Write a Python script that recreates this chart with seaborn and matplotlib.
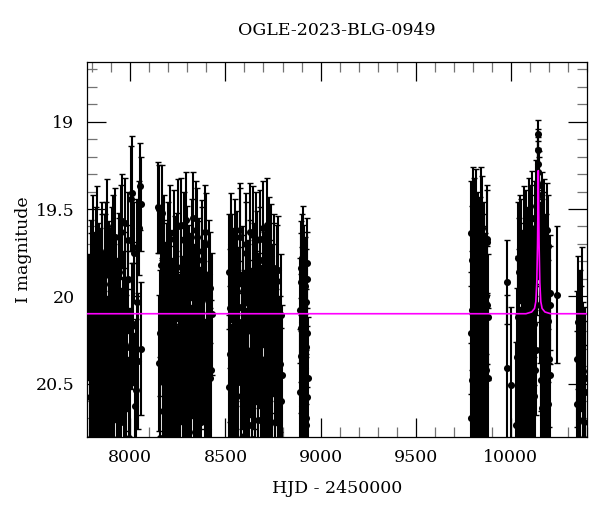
import matplotlib
matplotlib.use("Agg")
import matplotlib.pyplot as plt
import pandas as pd
import numpy as np
import seaborn as sns
from matplotlib.ticker import MultipleLocator, FuncFormatter

# --- photometry, season by season (HJD - 2450000, I mag, error) ---
t1 = [7783, 7789, 7794, 7798, 7803, 7808, 7812, 7817, 7821, 7826,
      7830, 7835, 7840, 7844, 7849, 7853, 7858, 7862, 7867, 7872,
      7876, 7881, 7886, 7890, 7895, 7899, 7904, 7909, 7914, 7918,
      7923, 7928, 7933, 7938, 7943, 7948, 7953, 7958, 7964, 7970,
      7976, 7983, 7990, 7998, 8006, 8015, 8024, 8033, 8042, 8052, 8058]
m1 = [20.12, 20.45, 19.86, 20.31, 20.68, 19.95, 20.22, 20.84, 19.78, 20.05,
      20.53, 20.17, 19.92, 20.74, 20.38, 19.83, 20.09, 20.61, 20.27, 19.74,
      20.48, 20.93, 20.02, 19.88, 20.35, 20.71, 20.14, 19.69, 20.56, 20.24,
      19.97, 20.82, 20.41, 19.81, 20.19, 20.66, 19.63, 20.33, 20.07, 19.58,
      20.88, 20.29, 19.90, 20.47, 19.41, 20.16, 20.63, 19.72, 20.37, 19.37, 19.47]
e1 = [0.36, 0.42, 0.30, 0.38, 0.45, 0.32, 0.37, 0.46, 0.29, 0.33,
      0.41, 0.36, 0.31, 0.44, 0.39, 0.30, 0.34, 0.43, 0.38, 0.28,
      0.40, 0.47, 0.33, 0.31, 0.38, 0.44, 0.35, 0.27, 0.42, 0.37,
      0.32, 0.45, 0.40, 0.29, 0.35, 0.43, 0.27, 0.38, 0.33, 0.26,
      0.46, 0.37, 0.31, 0.40, 0.33, 0.35, 0.42, 0.28, 0.39, 0.25, 0.27]
t1b = [7786, 7791, 7796, 7801, 7805, 7810, 7815, 7819, 7824, 7828,
       7833, 7837, 7842, 7847, 7851, 7856, 7860, 7865, 7869, 7874,
       7879, 7883, 7888, 7893, 7897, 7902, 7906, 7911, 7916, 7921,
       7926, 7930, 7935, 7940, 7945, 7950, 7955, 7961, 7967, 7973,
       7979, 7986, 7994, 8002, 8010, 8019, 8028, 8037, 8047, 8055]
m1b = [20.58, 19.97, 20.76, 20.14, 19.71, 20.43, 20.89, 20.06, 19.65, 20.36,
       20.71, 19.89, 20.24, 20.55, 19.76, 20.97, 20.31, 19.84, 20.63, 20.11,
       19.60, 20.40, 20.79, 19.93, 20.20, 20.52, 19.79, 20.68, 20.04, 19.66,
       20.34, 20.90, 20.13, 19.86, 20.49, 20.72, 19.57, 20.26, 20.60, 19.95,
       20.38, 19.68, 20.81, 19.44, 20.17, 19.75, 20.54, 20.03, 19.61, 20.30]
e1b = [0.42, 0.33, 0.45, 0.36, 0.29, 0.40, 0.47, 0.34, 0.28, 0.39,
       0.44, 0.31, 0.37, 0.41, 0.30, 0.48, 0.38, 0.31, 0.43, 0.35,
       0.27, 0.40, 0.46, 0.32, 0.36, 0.41, 0.30, 0.44, 0.34, 0.28,
       0.38, 0.47, 0.35, 0.31, 0.40, 0.45, 0.27, 0.37, 0.43, 0.32,
       0.39, 0.28, 0.46, 0.30, 0.36, 0.29, 0.41, 0.34, 0.27, 0.38]

t2 = [8146, 8152, 8158, 8164, 8170, 8176, 8181, 8187, 8192, 8198,
      8203, 8209, 8214, 8220, 8225, 8231, 8236, 8242, 8247, 8253,
      8258, 8264, 8269, 8275, 8280, 8286, 8291, 8297, 8302, 8308,
      8313, 8319, 8324, 8330, 8335, 8341, 8346, 8352, 8357, 8363,
      8368, 8374, 8379, 8385, 8391, 8397, 8403, 8410, 8417, 8425]
m2 = [19.49, 19.50, 20.21, 19.52, 20.66, 19.88, 20.39, 20.03, 20.79, 19.76,
      20.28, 20.52, 19.94, 20.13, 20.87, 19.67, 20.44, 20.08, 19.83, 20.60,
      20.25, 19.59, 20.35, 20.91, 19.99, 20.18, 19.56, 20.72, 20.46, 19.91,
      20.11, 20.57, 19.73, 20.32, 20.83, 20.04, 19.62, 20.49, 20.20, 19.86,
      20.69, 20.37, 19.79, 20.15, 20.55, 19.70, 20.27, 20.76, 19.95, 20.42]
e2 = [0.26, 0.25, 0.36, 0.27, 0.43, 0.32, 0.39, 0.34, 0.46, 0.30,
      0.37, 0.41, 0.32, 0.35, 0.47, 0.28, 0.40, 0.34, 0.31, 0.43,
      0.37, 0.27, 0.38, 0.48, 0.33, 0.36, 0.27, 0.44, 0.40, 0.32,
      0.35, 0.42, 0.29, 0.38, 0.46, 0.34, 0.28, 0.41, 0.36, 0.31,
      0.44, 0.39, 0.30, 0.35, 0.42, 0.29, 0.37, 0.45, 0.32, 0.40]
t2b = [8149, 8155, 8161, 8167, 8173, 8178, 8184, 8189, 8195, 8200,
       8206, 8211, 8217, 8222, 8228, 8233, 8239, 8244, 8250, 8255,
       8261, 8266, 8272, 8277, 8283, 8288, 8294, 8299, 8305, 8310,
       8316, 8321, 8327, 8332, 8338, 8343, 8349, 8354, 8360, 8365,
       8371, 8376, 8382, 8388, 8394, 8400, 8406, 8413, 8420, 8427]
m2b = [20.38, 20.81, 19.82, 20.13, 20.49, 19.71, 20.94, 20.26, 19.90, 20.63,
       20.05, 19.64, 20.41, 20.75, 20.17, 19.85, 20.58, 20.97, 19.60, 20.30,
       20.69, 19.93, 20.12, 20.52, 19.68, 20.84, 20.36, 19.78, 20.23, 20.65,
       19.97, 20.45, 19.55, 20.09, 20.78, 20.29, 19.66, 20.55, 19.89, 20.19,
       20.72, 19.74, 20.34, 20.01, 19.63, 20.61, 20.24, 19.87, 20.47, 20.10]
e2b = [0.39, 0.46, 0.31, 0.35, 0.41, 0.29, 0.48, 0.37, 0.32, 0.43,
       0.34, 0.28, 0.40, 0.45, 0.36, 0.31, 0.42, 0.48, 0.27, 0.38,
       0.44, 0.32, 0.35, 0.41, 0.28, 0.46, 0.39, 0.30, 0.37, 0.43,
       0.33, 0.40, 0.26, 0.34, 0.45, 0.38, 0.28, 0.42, 0.32, 0.36,
       0.44, 0.29, 0.38, 0.33, 0.27, 0.43, 0.37, 0.31, 0.40, 0.35]

t3 = [8517, 8522, 8528, 8533, 8539, 8544, 8550, 8555, 8561, 8566,
      8572, 8577, 8583, 8588, 8594, 8599, 8605, 8610, 8616, 8621,
      8627, 8632, 8638, 8643, 8649, 8654, 8660, 8665, 8671, 8676,
      8682, 8687, 8693, 8698, 8704, 8709, 8715, 8720, 8726, 8731,
      8737, 8742, 8748, 8753, 8759, 8765, 8771, 8778, 8786, 8794]
m3 = [19.86, 20.33, 19.70, 20.58, 20.11, 19.93, 20.77, 20.26, 19.81, 20.49,
      20.06, 19.66, 20.88, 20.37, 19.97, 20.21, 20.64, 19.75, 20.43, 20.02,
      19.63, 20.31, 20.82, 20.14, 19.89, 20.55, 19.68, 20.25, 20.71, 20.09,
      19.79, 20.46, 20.18, 19.61, 20.92, 20.36, 19.94, 20.12, 20.62, 19.72,
      20.29, 20.85, 20.04, 19.84, 20.51, 20.23, 19.91, 20.67, 20.39, 20.60]
e3 = [0.33, 0.39, 0.29, 0.42, 0.35, 0.32, 0.45, 0.37, 0.30, 0.41,
      0.34, 0.28, 0.46, 0.39, 0.32, 0.36, 0.43, 0.29, 0.40, 0.34,
      0.28, 0.38, 0.45, 0.35, 0.31, 0.42, 0.28, 0.37, 0.44, 0.34,
      0.30, 0.41, 0.36, 0.27, 0.47, 0.39, 0.32, 0.35, 0.43, 0.29,
      0.38, 0.46, 0.34, 0.31, 0.41, 0.37, 0.32, 0.44, 0.39, 0.42]
t3b = [8519, 8525, 8530, 8536, 8541, 8547, 8552, 8558, 8563, 8569,
       8574, 8580, 8585, 8591, 8596, 8602, 8607, 8613, 8618, 8624,
       8629, 8635, 8640, 8646, 8651, 8657, 8662, 8668, 8673, 8679,
       8684, 8690, 8695, 8701, 8706, 8712, 8717, 8723, 8728, 8734,
       8739, 8745, 8750, 8756, 8762, 8768, 8774, 8782, 8790, 8796]
m3b = [20.52, 20.07, 20.86, 19.84, 20.29, 20.69, 19.73, 20.40, 20.95, 20.15,
       19.62, 20.57, 20.23, 19.92, 20.80, 20.33, 19.70, 20.48, 20.04, 20.74,
       19.87, 20.20, 20.61, 19.65, 20.37, 20.91, 20.08, 19.81, 20.53, 20.27,
       19.67, 20.44, 20.83, 19.96, 20.16, 20.66, 19.59, 20.31, 20.76, 20.01,
       19.77, 20.50, 20.21, 19.90, 20.72, 20.35, 19.85, 20.58, 20.11, 20.45]
e3b = [0.41, 0.34, 0.46, 0.31, 0.38, 0.44, 0.29, 0.40, 0.48, 0.35,
       0.27, 0.42, 0.37, 0.32, 0.45, 0.38, 0.29, 0.41, 0.34, 0.44,
       0.31, 0.36, 0.43, 0.28, 0.39, 0.47, 0.34, 0.30, 0.42, 0.37,
       0.28, 0.40, 0.46, 0.33, 0.35, 0.43, 0.27, 0.38, 0.45, 0.33,
       0.30, 0.41, 0.36, 0.32, 0.44, 0.39, 0.31, 0.42, 0.35, 0.40]

t4 = [8892, 8895, 8898, 8901, 8904, 8907, 8909, 8911,
      8913, 8915, 8918, 8921, 8924, 8927, 8930, 8933]
m4 = [20.08, 19.92, 20.34, 19.78, 20.15, 20.52, 19.97, 20.26,
      20.68, 19.85, 20.41, 20.03, 20.74, 19.90, 20.21, 20.47]
e4 = [0.30, 0.28, 0.33, 0.25, 0.31, 0.36, 0.27, 0.32,
      0.38, 0.26, 0.34, 0.30, 0.39, 0.27, 0.31, 0.35]
t4b = [8893, 8896, 8899, 8902, 8905, 8908, 8910, 8912,
       8914, 8916, 8919, 8922, 8925, 8928, 8931]
m4b = [20.55, 20.18, 19.84, 20.63, 20.01, 20.38, 19.73, 20.80,
       20.12, 20.45, 19.94, 20.70, 20.29, 19.81, 20.58]
e4b = [0.36, 0.31, 0.27, 0.37, 0.29, 0.34, 0.25, 0.40,
       0.30, 0.35, 0.28, 0.39, 0.33, 0.26, 0.37]

t5 = [9790, 9793, 9797, 9800, 9803, 9807, 9810, 9813, 9817, 9820,
      9823, 9827, 9830, 9833, 9837, 9840, 9843, 9847, 9850, 9853,
      9857, 9860, 9864, 9867, 9871, 9874, 9877, 9880]
m5 = [20.21, 19.64, 20.48, 20.02, 19.56, 20.73, 20.14, 19.88, 20.39, 19.58,
      20.86, 20.27, 19.95, 20.57, 19.73, 20.09, 20.65, 19.61, 20.33, 20.81,
      19.84, 20.18, 20.52, 19.97, 20.42, 20.05, 19.67, 20.12]
e5 = [0.35, 0.30, 0.40, 0.33, 0.30, 0.44, 0.36, 0.32, 0.39, 0.31,
      0.46, 0.37, 0.33, 0.41, 0.30, 0.34, 0.43, 0.30, 0.38, 0.45,
      0.31, 0.35, 0.41, 0.33, 0.39, 0.34, 0.31, 0.36]
t5b = [9791, 9795, 9798, 9802, 9805, 9808, 9812, 9815, 9818, 9822,
       9825, 9828, 9832, 9835, 9838, 9842, 9845, 9848, 9852, 9855,
       9858, 9862, 9865, 9869, 9872, 9876, 9879]
m5b = [20.70, 20.08, 19.79, 20.45, 20.92, 19.62, 20.31, 20.59, 19.86, 20.20,
       20.77, 19.70, 20.40, 20.04, 20.88, 19.55, 20.26, 20.51, 19.92, 20.68,
       20.13, 19.76, 20.36, 20.84, 20.00, 19.69, 20.47]
e5b = [0.43, 0.34, 0.31, 0.40, 0.47, 0.30, 0.37, 0.42, 0.32, 0.35,
       0.44, 0.30, 0.39, 0.33, 0.46, 0.29, 0.37, 0.40, 0.32, 0.43,
       0.35, 0.30, 0.38, 0.45, 0.33, 0.30, 0.40]

t6 = [9979, 9983, 9999, 10026,
      10034, 10038, 10042, 10046, 10050, 10054, 10058, 10062, 10066, 10070,
      10074, 10078, 10082, 10086, 10090, 10094, 10098, 10102, 10106, 10110,
      10114, 10118, 10122, 10126, 10130, 10134,
      10137, 10140, 10142, 10144, 10145, 10146, 10148, 10150, 10153, 10156,
      10160, 10164, 10168, 10172, 10176, 10180, 10184, 10188, 10192, 10196,
      10200, 10204, 10207, 10242]
m6 = [19.92, 20.41, 20.51, 20.74,
      20.35, 19.78, 20.62, 20.08, 19.72, 20.47, 20.88, 19.95, 20.27, 19.66,
      20.56, 20.13, 19.82, 20.79, 20.38, 19.60, 20.19, 20.66, 19.88, 20.30,
      19.55, 20.51, 20.02, 19.71, 20.42, 19.48,
      19.83, 19.58, 19.36, 19.16, 19.07, 19.24, 19.42, 19.63, 20.05, 19.76,
      20.48, 19.57, 20.22, 20.71, 19.69, 20.36, 19.93, 20.58, 19.62, 20.14,
      20.84, 19.98, 20.45, 19.99]
e6 = [0.24, 0.42, 0.45, 0.48,
      0.40, 0.32, 0.44, 0.35, 0.30, 0.41, 0.47, 0.33, 0.37, 0.29,
      0.42, 0.34, 0.31, 0.45, 0.38, 0.28, 0.35, 0.43, 0.31, 0.37,
      0.27, 0.41, 0.33, 0.29, 0.39, 0.26,
      0.28, 0.24, 0.20, 0.12, 0.08, 0.15, 0.22, 0.27, 0.33, 0.30,
      0.40, 0.28, 0.36, 0.44, 0.29, 0.38, 0.32, 0.41, 0.27, 0.35,
      0.46, 0.33, 0.40, 0.39]
t6b = [10036, 10040, 10044, 10048, 10052, 10056, 10060, 10064, 10068, 10072,
       10076, 10080, 10084, 10088, 10092, 10096, 10100, 10104, 10108, 10112,
       10116, 10120, 10124, 10128, 10132,
       10139, 10143, 10147, 10152, 10158,
       10162, 10166, 10170, 10174, 10178, 10182, 10186, 10190, 10194, 10198,
       10202, 10206]
m6b = [20.71, 20.12, 19.86, 20.53, 20.90, 19.74, 20.33, 20.61, 19.90, 20.24,
       20.82, 19.68, 20.45, 20.06, 19.80, 20.67, 20.28, 19.64, 20.39, 20.93,
       19.92, 20.16, 20.57, 19.61, 20.31,
       19.66, 19.29, 19.36, 19.85, 20.30,
       19.73, 20.64, 20.11, 19.60, 20.43, 20.87, 19.84, 20.25, 20.62, 19.71,
       20.36, 20.05]
e6b = [0.45, 0.35, 0.31, 0.42, 0.48, 0.30, 0.38, 0.43, 0.32, 0.36,
       0.46, 0.29, 0.40, 0.34, 0.31, 0.44, 0.37, 0.28, 0.39, 0.48,
       0.32, 0.35, 0.42, 0.27, 0.37,
       0.27, 0.18, 0.19, 0.30, 0.36,
       0.29, 0.43, 0.34, 0.27, 0.40, 0.46, 0.31, 0.37, 0.43, 0.29,
       0.39, 0.34]

t7 = [10349, 10351, 10354, 10358, 10362, 10366, 10369, 10373, 10378, 10381,
      10385, 10389, 10392]
m7 = [20.62, 20.36, 20.15, 20.71, 20.88, 20.22, 20.30, 20.09, 20.43, 20.90,
      20.72, 20.47, 20.55]
e7 = [0.42, 0.39, 0.38, 0.43, 0.45, 0.37, 0.36, 0.37, 0.40, 0.45,
      0.44, 0.41, 0.41]

# --- microlensing model ---
model_hjd = [7700, 10080, 10110, 10125, 10132, 10137, 10141, 10143, 10145,
             10147, 10149, 10153, 10158, 10165, 10180, 10210, 10500]
model_mag = [20.10, 20.10, 20.09, 20.07, 20.03, 19.92, 19.70, 19.50, 19.28,
             19.50, 19.70, 19.92, 20.03, 20.07, 20.09, 20.10, 20.10]

seasons = [(t1, m1, e1), (t1b, m1b, e1b), (t2, m2, e2), (t2b, m2b, e2b),
           (t3, m3, e3), (t3b, m3b, e3b), (t4, m4, e4), (t4b, m4b, e4b),
           (t5, m5, e5), (t5b, m5b, e5b), (t6, m6, e6), (t6b, m6b, e6b),
           (t7, m7, e7)]
df = pd.concat([pd.DataFrame({"hjd": t, "mag": m, "err": e}) for t, m, e in seasons],
               ignore_index=True)
model = pd.DataFrame({"hjd": model_hjd, "mag": model_mag})

sns.set_theme(style="ticks")
plt.rcParams["font.family"] = ["DejaVu Serif"]
plt.rcParams.update({"axes.linewidth": 0.9, "axes.edgecolor": "black",
                     "text.color": "black", "axes.labelcolor": "black",
                     "xtick.color": "black", "ytick.color": "black"})

fig = plt.figure(figsize=(6, 5.12), dpi=100)
ax = fig.add_axes([0.145, 0.147, 0.833, 0.731])

ax.errorbar(df["hjd"], df["mag"], yerr=df["err"], fmt="none", ecolor="black",
            elinewidth=1.5, capsize=2.5, capthick=1.0, zorder=1)
sns.scatterplot(data=df, x="hjd", y="mag", color="black", s=26, linewidth=0,
                ax=ax, zorder=2, legend=False)
sns.lineplot(data=model, x="hjd", y="mag", color="#ff00ff", linewidth=1.2,
             ax=ax, zorder=3, sort=False)

ax.set_xlim(7772, 10400)
ax.set_ylim(20.805, 18.66)

ax.xaxis.set_major_locator(MultipleLocator(500))
ax.xaxis.set_minor_locator(MultipleLocator(100))
ax.yaxis.set_major_locator(MultipleLocator(0.5))
ax.yaxis.set_minor_locator(MultipleLocator(0.1))
ax.yaxis.set_major_formatter(FuncFormatter(lambda v, p: "%g" % v))
ax.tick_params(which="both", direction="in", top=True, right=True,
               labelsize=12.5, width=0.9)
ax.tick_params(which="major", length=13.5, pad=9)
ax.tick_params(which="minor", length=7, color="0.45")

ax.set_xlabel("HJD - 2450000", fontsize=12.5, labelpad=10)
ax.set_ylabel("I magnitude", fontsize=12.5, labelpad=3)
ax.set_title("OGLE-2023-BLG-0949", fontsize=12.5, pad=20)

fig.savefig("out.png", dpi=100)
